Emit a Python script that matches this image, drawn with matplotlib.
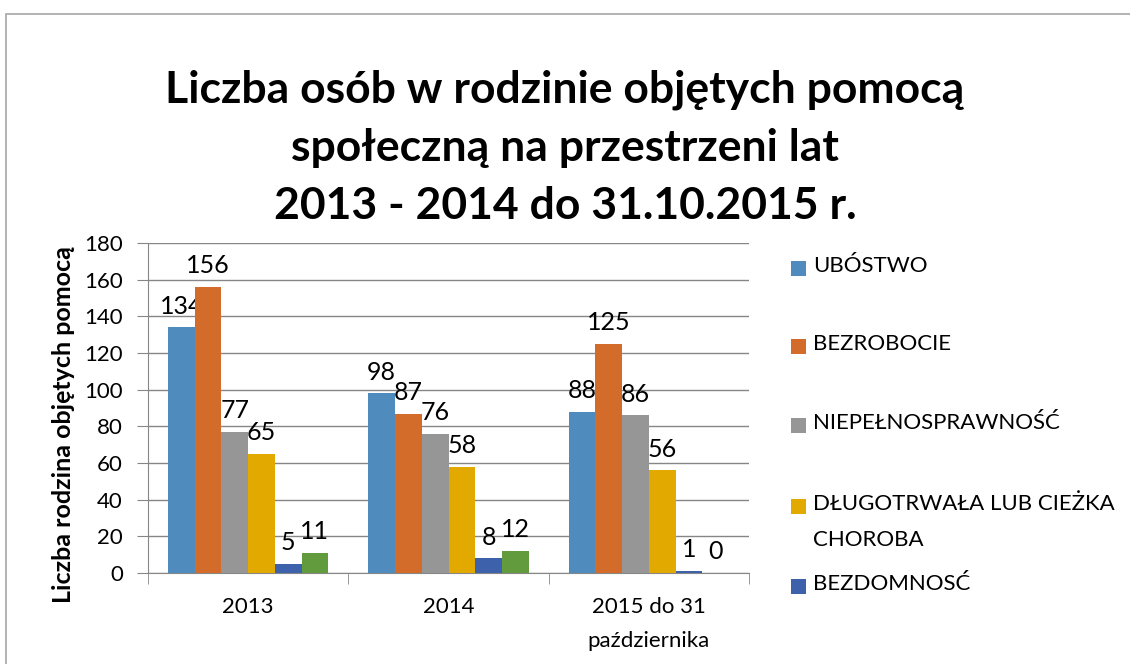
import matplotlib
matplotlib.use("Agg")
import numpy as np
import matplotlib.pyplot as plt
from matplotlib.patches import Rectangle

plt.rcParams['font.family'] = ['Lato', 'DejaVu Sans']

# dane z wykresu
lata = ['2013', '2014', '2015 do 31\npaździernika']
ubostwo = [134, 98, 88]
bezrobocie = [156, 87, 125]
niepelnosprawnosc = [77, 76, 86]
choroba = [65, 58, 56]
bezdomnosc = [5, 8, 1]
inne = [11, 12, 0]

serie = [ubostwo, bezrobocie, niepelnosprawnosc, choroba, bezdomnosc, inne]
nazwy = ['UBÓSTWO', 'BEZROBOCIE', 'NIEPEŁNOSPRAWNOŚĆ',
         'DŁUGOTRWAŁA LUB CIEŻKA\nCHOROBA', 'BEZDOMNOSĆ', '']
kolory = ['#508BBE', '#D36B2B', '#969696', '#E2AA00', '#3E61AC', '#629A3E']

fig = plt.figure(figsize=(11.3, 6.64), dpi=100)
# ramka wykresu (ucięta z prawej i z dołu)
fig.patches.append(Rectangle((6 / 1130, -0.05), 1.1, 1 - 14 / 664 + 0.05,
                             transform=fig.transFigure, fill=False,
                             edgecolor='#A6A6A6', linewidth=1.2))

ax = fig.add_axes([148 / 1130, 91 / 664, 601 / 1130, 330 / 664])

x = np.arange(len(lata))
w = 0.8 / 6
for i, s in enumerate(serie):
    pos = x - 0.4 + w * (i + 0.5)
    ax.bar(pos, s, width=w, color=kolory[i], label=nazwy[i], zorder=3)
    for p, v in zip(pos, s):
        ax.annotate(str(v), (p, v), xytext=(0, 7), textcoords='offset points',
                    ha='center', va='bottom', fontsize=18, color='black')

ax.set_xlim(-0.5, 2.5)
ax.set_ylim(0, 180)
ax.set_yticks(np.arange(0, 181, 20))
ax.set_xticks(x)
ax.set_xticklabels(lata, linespacing=1.9)
ax.set_xticks([-0.5, 0.5, 1.5, 2.5], minor=True)
ax.tick_params(axis='x', which='major', length=0, pad=17, labelsize=16)
ax.tick_params(axis='x', which='minor', length=8, color='#868686', direction='out')
ax.tick_params(axis='y', length=8, color='#868686', direction='out', labelsize=16, pad=10)
ax.yaxis.grid(True, color='#868686', linewidth=1, zorder=0)
for sp in ['top', 'right']:
    ax.spines[sp].set_visible(False)
for sp in ['left', 'bottom']:
    ax.spines[sp].set_color('#868686')
ax.set_axisbelow(True)

ax.set_ylabel('Liczba rodzina objętych pomocą', fontsize=18, fontweight='bold')
ax.yaxis.set_label_coords(-0.1215, 0.451)

fig.text(0.5, 1 - 148 / 664, 'Liczba osób w rodzinie objętych pomocą\nspołeczną na przestrzeni lat\n2013 - 2014 do 31.10.2015 r.',
         ha='center', va='center', fontsize=32, fontweight='bold', linespacing=1.55)

# legenda (bez ostatniej serii, ucięta jak w oryginale)
leg_y = [268, 346, 425, 506, 586]
for i in range(5):
    yf = 1 - leg_y[i] / 664
    fig.patches.append(Rectangle((791 / 1130, yf - 7.5 / 664), 15 / 1130, 15 / 664,
                                 transform=fig.transFigure, facecolor=kolory[i],
                                 edgecolor='none'))
    fig.text(813 / 1130, yf + 12 / 664, nazwy[i], ha='left', va='top',
             fontsize=16, linespacing=2.0)

fig.savefig('out.png', dpi=100)
